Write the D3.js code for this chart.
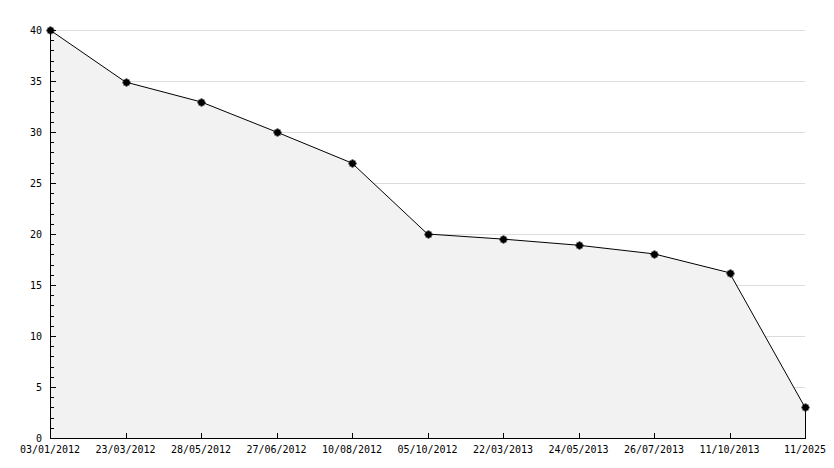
<!DOCTYPE html>
<html>
<head>
<meta charset="utf-8">
<script src="https://cdn.jsdelivr.net/npm/d3@7/dist/d3.min.js"></script>
<style>
  body { margin: 0; background: #fff; }
  text { font-family: "DejaVu Sans Mono", monospace; font-size: 10px; fill: #000; }
</style>
</head>
<body>
<svg id="chart" width="834" height="468"></svg>
<script>
// dates along the bottom, one point each
var dates = ["03/01/2012", "23/03/2012", "28/05/2012", "27/06/2012", "10/08/2012",
    "05/10/2012", "22/03/2013", "24/05/2013", "26/07/2013", "11/10/2013", "11/2025"];
var values = [40, 34.9, 32.95, 30, 26.95, 20, 19.5, 18.9, 18.05, 16.2, 3];
var yTicks = [0, 5, 10, 15, 20, 25, 30, 35, 40];

var svg = d3.select("#chart");
var plotLeft = 50, plotRight = 805, plotTop = 30, plotBottom = 438;

var x = d3.scalePoint()
    .domain(dates)
    .range([plotLeft, plotRight]);

var y = d3.scaleLinear()
    .domain([0, 40])
    .range([plotBottom, plotTop]);

var data = dates.map(function(d, i) { return {date: d, value: values[i]}; });

// grid lines
svg.append("g")
    .selectAll("line")
    .data(yTicks.filter(function(d) { return d > 0; }))
    .enter().append("line")
    .attr("x1", plotLeft).attr("x2", plotRight)
    .attr("y1", function(d) { return y(d) + 0.5; })
    .attr("y2", function(d) { return y(d) + 0.5; })
    .attr("stroke", "#dcdcdc");

// filled area under the line
var area = d3.area()
    .x(function(d) { return x(d.date); })
    .y0(y(0))
    .y1(function(d) { return y(d.value); });

svg.append("path")
    .datum(data)
    .attr("d", area)
    .attr("fill", "#f2f2f2")
    .attr("stroke", "none");

// right edge of the area
var lastX = Math.round(x(dates[dates.length - 1])) + 0.5;
svg.append("line")
    .attr("x1", lastX).attr("x2", lastX)
    .attr("y1", y(values[values.length - 1])).attr("y2", y(0))
    .attr("stroke", "#000");

var line = d3.line()
    .x(function(d) { return x(d.date); })
    .y(function(d) { return y(d.value); });

svg.append("path")
    .datum(data)
    .attr("d", line)
    .attr("fill", "none")
    .attr("stroke", "#000")
    .attr("stroke-width", 1);

// y axis with minor ticks
var yAxis = svg.append("g");
yAxis.append("line")
    .attr("x1", plotLeft + 0.5).attr("x2", plotLeft + 0.5)
    .attr("y1", plotTop).attr("y2", plotBottom + 1)
    .attr("stroke", "#000");

yAxis.selectAll(".minor")
    .data(d3.range(0, 41, 1))
    .enter().append("line")
    .attr("x1", plotLeft)
    .attr("x2", function(d) { return d % 5 === 0 ? plotLeft + 6 : plotLeft + 4; })
    .attr("y1", function(d) { return Math.round(y(d)) + 0.5; })
    .attr("y2", function(d) { return Math.round(y(d)) + 0.5; })
    .attr("stroke", "#000");

yAxis.selectAll("text")
    .data(yTicks)
    .enter().append("text")
    .attr("x", 42)
    .attr("y", function(d) { return y(d) + 4; })
    .attr("text-anchor", "end")
    .text(function(d) { return d; });

// x axis
var xAxis = svg.append("g");
xAxis.append("line")
    .attr("x1", plotLeft).attr("x2", plotRight + 1)
    .attr("y1", plotBottom + 0.5).attr("y2", plotBottom + 0.5)
    .attr("stroke", "#000");

xAxis.selectAll(".tick")
    .data(dates)
    .enter().append("line")
    .attr("x1", function(d) { return Math.round(x(d)) + 0.5; })
    .attr("x2", function(d) { return Math.round(x(d)) + 0.5; })
    .attr("y1", plotBottom - 5).attr("y2", plotBottom)
    .attr("stroke", "#000");

xAxis.selectAll("text")
    .data(dates)
    .enter().append("text")
    .attr("x", function(d) { return x(d); })
    .attr("y", plotBottom + 15)
    .attr("text-anchor", "middle")
    .text(function(d) { return d; });

// point markers
var marks = svg.append("g")
    .selectAll("g")
    .data(data)
    .enter().append("g")
    .attr("transform", function(d) {
        return "translate(" + Math.round(x(d.date)) + "," + Math.round(y(d.value)) + ")";
    });

marks.append("rect")
    .attr("x", -2.5).attr("y", -2.5)
    .attr("width", 6).attr("height", 6)
    .attr("fill", "#000");
marks.append("rect")
    .attr("x", -3.5).attr("y", -0.5)
    .attr("width", 8).attr("height", 2)
    .attr("fill", "#000");
marks.append("rect")
    .attr("x", -0.5).attr("y", -3.5)
    .attr("width", 2).attr("height", 8)
    .attr("fill", "#000");
</script>
</body>
</html>
